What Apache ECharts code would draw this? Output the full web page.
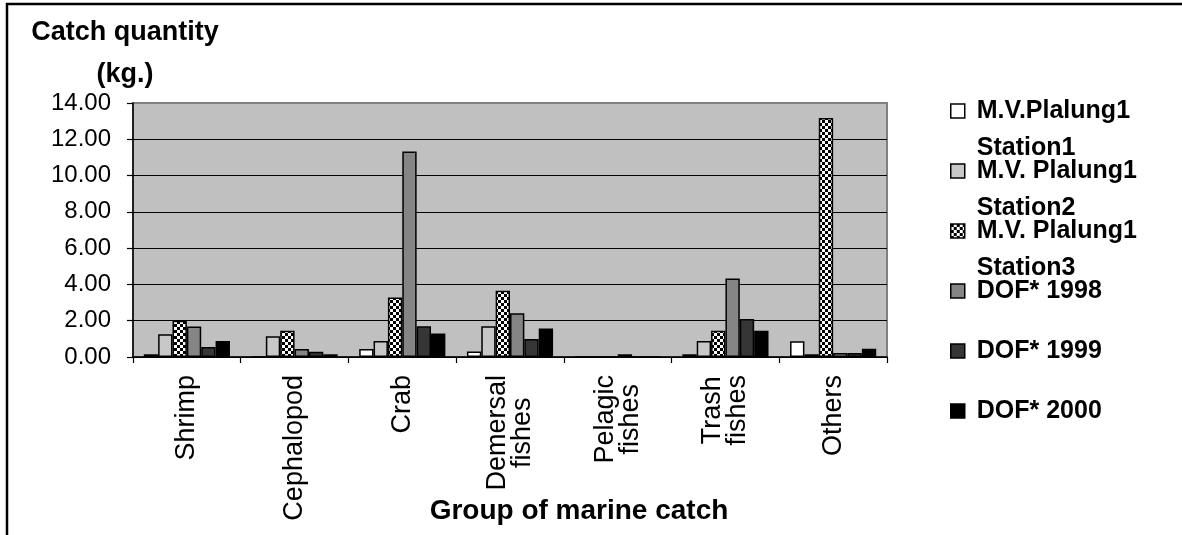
<!DOCTYPE html>
<html>
<head>
<meta charset="utf-8">
<script src="https://cdn.jsdelivr.net/npm/echarts@6/dist/echarts.min.js"></script>
<style>
  html, body { margin: 0; padding: 0; background: #fff; }
  #chart { width: 1182px; height: 535px; }
</style>
</head>
<body>
<div id="chart"></div>
<script>
// Catch per group of marine catch (kg.)
const categories = ['Shrimp', 'Cephalopod', 'Crab', 'Demersal\nfishes', 'Pelagic\nfishes', 'Trash\nfishes', 'Others'];
const seriesNames = ['M.V.Plalung1 Station1', 'M.V. Plalung1 Station2', 'M.V. Plalung1 Station3', 'DOF* 1998', 'DOF* 1999', 'DOF* 2000'];
const station1 = [0.15, 0.00, 0.44, 0.31, 0.00, 0.15, 0.87];
const station2 = [1.25, 1.14, 0.88, 1.69, 0.00, 0.88, 0.15];
const station3 = [2.00, 1.44, 3.28, 3.65, 0.00, 1.44, 13.17];
const dof1998 = [1.68, 0.44, 11.33, 2.41, 0.15, 4.33, 0.22];
const dof1999 = [0.55, 0.29, 1.69, 0.99, 0.00, 2.10, 0.22];
const dof2000 = [0.88, 0.15, 1.29, 1.57, 0.00, 1.44, 0.46];
const yMin = 0, yMax = 14, yStep = 2;

const FONT = '"Liberation Sans", Arial, sans-serif';

// checkerboard fill for the Station3 series
function checker() {
  const c = document.createElement('canvas');
  c.width = 6; c.height = 6;
  const g = c.getContext('2d');
  g.fillStyle = '#ffffff'; g.fillRect(0, 0, 6, 6);
  g.fillStyle = '#000000';
  g.fillRect(0, 0, 3, 3);
  g.fillRect(3, 3, 3, 3);
  return { image: c, repeat: 'repeat' };
}

const fills = ['#ffffff', '#c8c8c8', checker(), '#858585', '#363636', '#000000'];
const values = [station1, station2, station3, dof1998, dof1999, dof2000];

const chart = echarts.init(document.getElementById('chart'), null, { renderer: 'canvas' });

// gridlines: black, except the top one which sits on the grey plot border
const nLines = Math.round((yMax - yMin) / yStep) + 1;
const splitColors = [];
for (let i = 0; i < nLines; i++) splitColors.push(i === nLines - 1 ? '#808080' : '#000000');

chart.setOption({
  animation: false,
  textStyle: { fontFamily: FONT, color: '#000' },
  graphic: [{
    type: 'rect',
    shape: { x: 7, y: 4, width: 1200, height: 560 },
    style: { fill: 'none', stroke: '#000', lineWidth: 2.5 },
    silent: true
  }],
  grid: {
    left: 133, right: 295, top: 103, bottom: 178,
    outerBoundsMode: 'none',
    containLabel: false,
    show: true, backgroundColor: '#c0c0c0',
    borderColor: '#808080', borderWidth: 2
  },
  legend: {
    orient: 'vertical',
    left: 950, top: 50,
    padding: 0,
    itemGap: -62,
    itemWidth: 14, itemHeight: 14,
    icon: 'rect',
    selectedMode: false,
    itemStyle: { borderColor: '#000', borderWidth: 1.5 },
    textStyle: { fontFamily: FONT, fontSize: 25, fontWeight: 'bold', color: '#000', lineHeight: 26,
      rich: {
        s: { fontFamily: FONT, fontSize: 25, lineHeight: 48 },
        a: { fontFamily: FONT, fontSize: 25, fontWeight: 'bold', color: '#000', lineHeight: 26, padding: [0, 0, 0, 7] },
        b: { fontFamily: FONT, fontSize: 25, fontWeight: 'bold', color: '#000', lineHeight: 48, padding: [0, 0, 0, 7] }
      }
    },
    formatter: function (name) {
      const i = name.indexOf(' Station');
      if (i >= 0) return '{s| }\n{a|' + name.slice(0, i) + '}\n{b|' + name.slice(i + 1) + '}';
      return '{s| }\n{a|' + name + '}\n{s| }';
    },
    data: seriesNames
  },
  xAxis: {
    type: 'category',
    data: categories,
    axisLine: { show: true, lineStyle: { color: '#000', width: 1.5 } },
    axisTick: { show: true, length: 6, alignWithLabel: false, lineStyle: { color: '#000', width: 1.2 } },
    axisLabel: {
      interval: 0, rotate: 90, margin: 18,
      fontFamily: FONT, fontSize: 27, color: '#000',
      formatter: function (v) { return v.split('\n').map(function (s) { return '{c|' + s + '}'; }).join('\n'); },
      rich: { c: { align: 'center', fontFamily: FONT, fontSize: 27, color: '#000', lineHeight: 25 } }
    },
    name: 'Group of marine catch',
    nameLocation: 'middle',
    nameGap: 140,
    nameMoveOverlap: false,
    nameTextStyle: { fontFamily: FONT, fontSize: 28, fontWeight: 'bold', color: '#000', padding: [0, 0, 0, 138] }
  },
  yAxis: {
    type: 'value',
    min: yMin, max: yMax, interval: yStep,
    axisLine: { show: true, lineStyle: { color: '#000', width: 1.5 } },
    axisTick: { show: true, length: 6, lineStyle: { color: '#000', width: 1.2 } },
    axisLabel: {
      margin: 22, fontFamily: FONT, fontSize: 24, color: '#000',
      formatter: function (v) { return v.toFixed(2); }
    },
    splitLine: { show: true, lineStyle: { color: splitColors, width: 1 } },
    name: 'Catch quantity\n(kg.)',
    nameLocation: 'end',
    nameGap: 7,
    nameMoveOverlap: false,
    nameTextStyle: { fontFamily: FONT, fontSize: 27, fontWeight: 'bold', color: '#000', lineHeight: 42,
      align: 'center', verticalAlign: 'bottom', padding: [0, 16, 0, 0] }
  },
  series: seriesNames.map(function (name, k) {
    return {
      name: name,
      type: 'bar',
      barGap: '0%',
      barCategoryGap: '20%',
      data: values[k],
      itemStyle: { color: fills[k], borderColor: '#000', borderWidth: 1.5 }
    };
  })
});
</script>
</body>
</html>
